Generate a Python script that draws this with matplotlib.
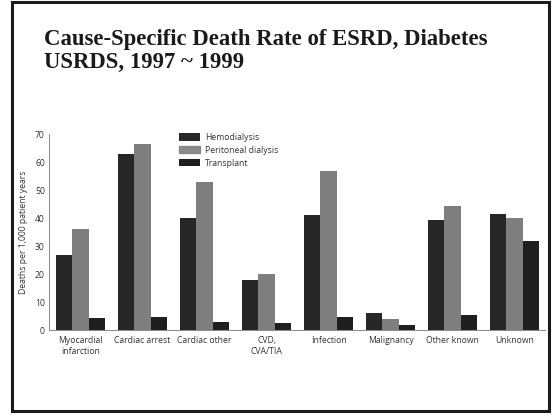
import numpy as np
import matplotlib.pyplot as plt
import matplotlib.patches as patches

categories = ['Myocardial\ninfarction', 'Cardiac arrest', 'Cardiac other', 'CVD,\nCVA/TIA',
              'Infection', 'Malignancy', 'Other known', 'Unknown']
hemodialysis = [27, 63, 40, 18, 41, 6, 39.5, 41.5]
peritoneal = [36, 66.5, 53, 20, 57, 4, 44.5, 40]
transplant = [4.2, 4.8, 3, 2.5, 4.8, 1.8, 5.5, 32]
series_labels = ['Hemodialysis', 'Peritoneal dialysis', 'Transplant']
yticks = [0, 10, 20, 30, 40, 50, 60, 70]

sans = ['Open Sans', 'DejaVu Sans']
text_color = '#333333'
fs = 6.2

fig = plt.figure(figsize=(5.56, 4.15), dpi=100)
fig.patch.set_facecolor('white')

# slide frame
fig.patches.append(patches.Rectangle((11.5 / 556, 4 / 415), 537.5 / 556, 409 / 415,
                                     transform=fig.transFigure, fill=False,
                                     edgecolor='#1a1a1a', linewidth=2.2))

fig.text(44 / 556, 1 - 68 / 415, 'Cause-Specific Death Rate of ESRD, Diabetes\nUSRDS, 1997 ~ 1999',
         family='Liberation Serif', fontweight='bold', fontsize=16.4, color='#1a1a1a',
         ha='left', va='baseline', linespacing=1.1)

ax = fig.add_axes([49 / 556, 1 - 330 / 415, 496 / 556, 195.7 / 415])
x = np.arange(len(categories))
w = 0.266
ax.bar(x - w, hemodialysis, w, color='#272727', label=series_labels[0])
ax.bar(x, peritoneal, w, color='#7e7e7e', label=series_labels[1])
ax.bar(x + w, transplant, w, color='#1f1f1f', label=series_labels[2])

ax.set_xlim(-0.51, 7.49)
ax.set_ylim(0, 70)
ax.set_yticks(yticks)
ax.set_xticks(x)
ax.set_xticklabels(categories, family=sans, fontsize=fs, color=text_color, linespacing=1.3)
for lab in ax.get_yticklabels():
    lab.set_family(sans)
    lab.set_fontsize(fs)
    lab.set_color(text_color)
ax.tick_params(axis='y', length=0, pad=3)
ax.tick_params(axis='x', length=0, pad=4)
ax.set_ylabel('Deaths per 1,000 patient years', family=sans, fontsize=fs, color=text_color, labelpad=5)
for s in ['top', 'right']:
    ax.spines[s].set_visible(False)
ax.spines['left'].set_color('#888888')
ax.spines['bottom'].set_color('#888888')
ax.spines['left'].set_linewidth(0.7)
ax.spines['bottom'].set_linewidth(0.7)

leg = ax.legend(loc='upper left', bbox_to_anchor=(171 / 556, 1 - 125 / 415), bbox_transform=fig.transFigure,
                frameon=False, prop={'family': sans, 'size': fs}, handlelength=2.5, handleheight=0.95,
                labelspacing=0.45, handletextpad=0.55)
for t in leg.get_texts():
    t.set_color(text_color)
leg.legend_handles[1].set_color('#8a8a8a')

plt.savefig('out.png', dpi=100)
